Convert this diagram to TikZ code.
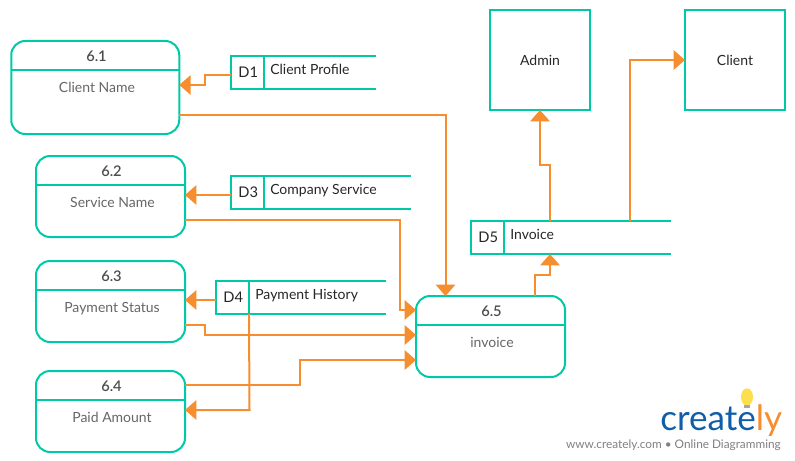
\documentclass[tikz,border=0pt]{standalone}
\usepackage{fontspec}
\setmainfont{Lato}
\newfontfamily\titlefont{Lato Semibold}
\usepackage{xcolor}
\usetikzlibrary{arrows.meta}
\definecolor{tealline}{HTML}{00C9A7}
\definecolor{flowline}{HTML}{F68D2E}
\definecolor{titlegray}{HTML}{4D4D4D}
\definecolor{namegray}{HTML}{666666}
\definecolor{logoblue}{HTML}{0F5FA8}
\tikzset{
  process/.style={draw=tealline,line width=1.5pt,rounded corners=10.5pt,inner sep=0pt,outer sep=0pt},
  entity/.style={draw=tealline,line width=1.5pt,minimum width=75pt,minimum height=75pt,inner sep=0pt,outer sep=0pt,text=black!85,font=\fontsize{10.5}{12}\selectfont},
  store/.style={draw=tealline,line width=1.5pt,minimum width=24.75pt,minimum height=24.75pt,inner sep=0pt,outer sep=0pt,text=black!85,font=\fontsize{11}{12}\selectfont},
  storeline/.style={draw=tealline,line width=1.5pt},
  storetext/.style={anchor=west,inner sep=0pt,text height=8pt,text depth=0pt,text=black!85,font=\fontsize{10.5}{12}\selectfont},
  divider/.style={draw=tealline,line width=1.5pt},
  ptitle/.style={inner sep=0pt,text=titlegray,font=\fontsize{11}{12}\selectfont\titlefont},
  pname/.style={inner sep=0pt,text height=8pt,text depth=0pt,text=namegray,font=\fontsize{10.5}{12}\selectfont},
  flow/.style={draw=flowline,line width=1.5pt,-{Triangle[length=8.5pt,width=14.5pt]}}
}
\begin{document}
\begin{tikzpicture}[x=0.75pt,y=-0.75pt]
\useasboundingbox (0,0) rectangle (795,460);

\node[process,minimum width=126pt,minimum height=69.75pt] (p61) at (95.25,87.5) {};
\node[process,minimum width=111.75pt,minimum height=60.75pt] (p62) at (110.5,196.5) {};
\node[process,minimum width=111.75pt,minimum height=60.75pt] (p63) at (110.5,301.5) {};
\node[process,minimum width=111.75pt,minimum height=60.75pt] (p64) at (110.5,411.5) {};
\node[process,minimum width=111.75pt,minimum height=60.75pt] (p65) at (490.5,336.5) {};
\draw[divider] (p61.west |- 0,70) -- (p61.east |- 0,70);
\draw[divider] (p62.west |- 0,185) -- (p62.east |- 0,185);
\draw[divider] (p63.west |- 0,290) -- (p63.east |- 0,290);
\draw[divider] (p64.west |- 0,400) -- (p64.east |- 0,400);
\draw[divider] (p65.west |- 0,325) -- (p65.east |- 0,325);
\node[ptitle] (t61) at (96.5,56.5) {6.1};
\node[ptitle] (t62) at (111.5,171.5) {6.2};
\node[ptitle] (t63) at (111.5,276.5) {6.3};
\node[ptitle] (t64) at (111.5,386.5) {6.4};
\node[ptitle] (t65) at (491.5,311.5) {6.5};
\node[pname] (n61) at (97,87.5) {Client Name};
\node[pname] (n62) at (112.5,202.5) {Service Name};
\node[pname] (n63) at (112,307.5) {Payment Status};
\node[pname] (n64) at (112,417.5) {Paid Amount};
\node[pname] (n65) at (492,342.5) {invoice};

\node[entity] (admin) at (540,60) {Admin};
\node[entity] (client) at (735,60) {Client};

\node[store] (d1) at (247.5,72.5) {\hspace{1pt}D1};
\node[store] (d3) at (247.5,192.5) {\hspace{1pt}D3};
\node[store] (d4) at (232.5,297.5) {\hspace{1pt}D4};
\node[store] (d5) at (487.5,237.5) {\hspace{1pt}D5};
\draw[storeline] (d1.north east) -- ++(112,0);
\draw[storeline] (d1.south east) -- ++(112,0);
\draw[storeline] (d3.north east) -- ++(147,0);
\draw[storeline] (d3.south east) -- ++(147,0);
\draw[storeline] (d4.north east) -- ++(137,0);
\draw[storeline] (d4.south east) -- ++(137,0);
\draw[storeline] (d5.north east) -- ++(167,0);
\draw[storeline] (d5.south east) -- ++(167,0);
\node[storetext] (l1) at (270,69.5) {Client Profile};
\node[storetext] (l3) at (270,189.5) {Company Service};
\node[storetext] (l4) at (255,294.5) {Payment History};
\node[storetext] (l5) at (510,234.5) {Invoice};

\draw[flow] (d1.west |- 0,75) -- (205,75) -- (205,85) -- (p61.east |- 0,85);
\draw[flow] (d3.west |- 0,195) -- (p62.east |- 0,195);
\draw[flow] (d4.west |- 0,300) -- (p63.east |- 0,300);
\draw[flow] (d4.south east) -- (249.5,410) -- (p64.east |- 0,410);
\draw[flow] (p61.east |- 0,115) -- (445.5,115) -- (445.5,0 |- p65.north);
\draw[flow] (p62.east |- 0,220) -- (400,220) -- (400,310) -- (p65.west |- 0,310);
\draw[flow] (p63.east |- 0,325) -- (205,325) -- (205,335) -- (p65.west |- 0,335);
\draw[flow] (p64.east |- 0,385) -- (300,385) -- (300,360) -- (p65.west |- 0,360);
\draw[flow] (535,0 |- p65.north) -- (535,275) -- (550,275) -- (550,0 |- d5.south);
\draw[flow] (550,0 |- d5.north) -- (550,165) -- (540,165) -- (admin.south);
\draw[flow] (630,0 |- d5.north) -- (630,60) -- (client.west);

\fill[yellow!70!orange!70!white] (747,397) ellipse (4.5pt and 6.5pt);
\fill[black!35] (744,405) rectangle (750,408);
\node[inner sep=0pt,anchor=base west,font=\fontsize{26.3}{30}\selectfont] (logo) at (660,430) {\textcolor{logoblue}{create}\textcolor{flowline}{ly}};
\node[inner sep=0pt,anchor=base east,text=black!50,font=\fontsize{8.85}{11}\selectfont] (site) at (781,448) {www.creately.com • Online Diagramming};
\end{tikzpicture}
\end{document}
